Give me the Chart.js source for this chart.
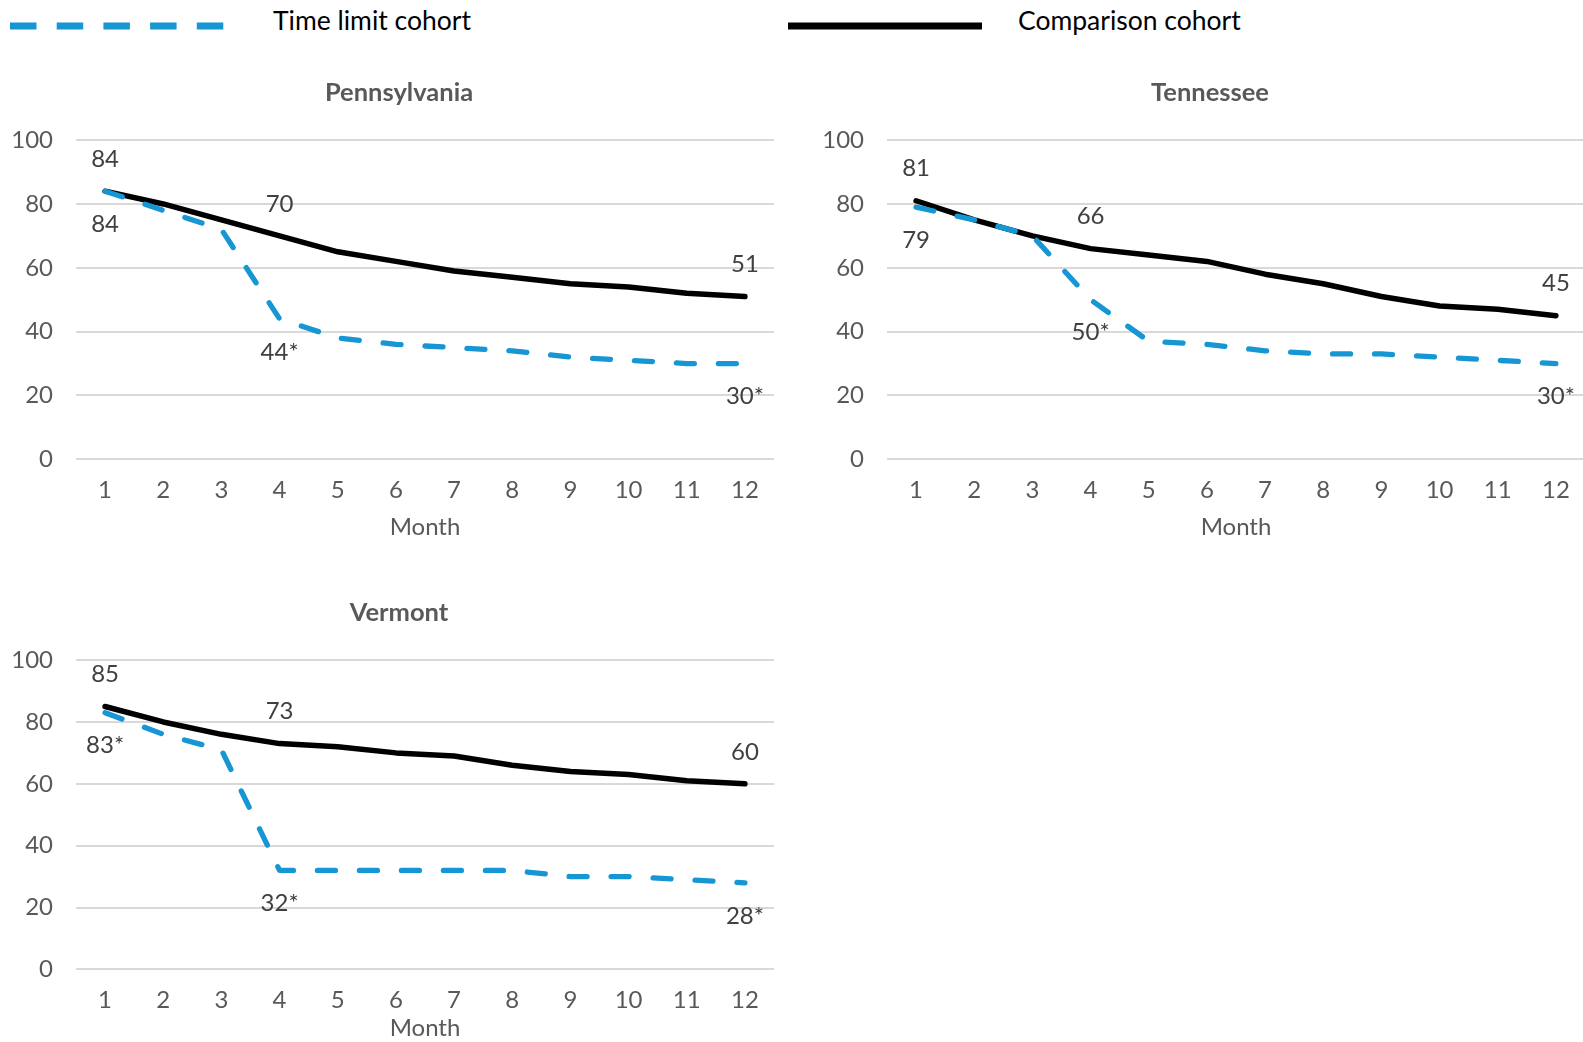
<!DOCTYPE html>
<html>
<head>
<meta charset="utf-8">
<script src="https://cdn.jsdelivr.net/npm/chart.js@4.4.1/dist/chart.umd.min.js"></script>
<style>
  html, body { margin: 0; padding: 0; background: #fff; }
  #page { position: relative; width: 1583px; height: 1042px; overflow: hidden; background: #fff; font-family: Lato, sans-serif; }
  #page canvas { position: absolute; }
  .key-text { position: absolute; font-size: 26.5px; line-height: 26.5px; color: #000; white-space: nowrap; }
</style>
</head>
<body>
<div id="page">
  <svg width="1583" height="50" style="position:absolute;left:0;top:0">
    <line x1="10" y1="26" x2="224" y2="26" stroke="#1696d2" stroke-width="7" stroke-dasharray="26.5 20.2"/>
    <line x1="788" y1="26" x2="982" y2="26" stroke="#000" stroke-width="7"/>
  </svg>
  <div class="key-text" style="left:273px;top:7px">Time limit cohort</div>
  <div class="key-text" style="left:1018px;top:7px">Comparison cohort</div>

  <canvas id="pa" width="798" height="490" style="left:0;top:60px"></canvas>
  <canvas id="tn" width="798" height="490" style="left:811px;top:60px"></canvas>
  <canvas id="vt" width="798" height="463" style="left:0;top:580px"></canvas>
</div>

<script>
// Months since cohort entry
const months = ['1', '2', '3', '4', '5', '6', '7', '8', '9', '10', '11', '12'];

// Share of each cohort still receiving benefits (%)
const paTimeLimit  = [84, 78, 72, 44, 38, 36, 35, 34, 32, 31, 30, 30];
const paComparison = [84, 80, 75, 70, 65, 62, 59, 57, 55, 54, 52, 51];
const tnTimeLimit  = [79, 75, 70, 50, 37, 36, 34, 33, 33, 32, 31, 30];
const tnComparison = [81, 75, 70, 66, 64, 62, 58, 55, 51, 48, 47, 45];
const vtTimeLimit  = [83, 76, 71, 32, 32, 32, 32, 32, 30, 30, 29, 28];
const vtComparison = [85, 80, 76, 73, 72, 70, 69, 66, 64, 63, 61, 60];

// Months (by index) whose values are printed, and significance flags for the time limit cohort
const labelledMonths = [0, 3, 11];
const paSignificant = [false, true, true];
const tnSignificant = [false, true, true];
const vtSignificant = [true, true, true];

// Y axis range
const yMin = 0, yMax = 100, yStep = 20;

const FONT = 'Lato';
const BLUE = '#1696d2';

// Prints the value (plus * when significant) above or below selected points
const valueLabels = {
  id: 'valueLabels',
  afterDatasetsDraw(chart) {
    const ctx = chart.ctx;
    ctx.save();
    ctx.font = '24px ' + FONT;
    ctx.fillStyle = '#404040';
    ctx.textAlign = 'center';
    ctx.textBaseline = 'middle';
    chart.data.datasets.forEach((ds, di) => {
      const meta = chart.getDatasetMeta(di);
      ds.labelAt.forEach((idx, k) => {
        const pt = meta.data[idx];
        const text = String(ds.data[idx]) + (ds.stars && ds.stars[k] ? '*' : '');
        ctx.fillText(text, pt.x, pt.y + ds.labelShift);
      });
    });
    ctx.restore();
  }
};

function makePanel(id, title, timeLimit, comparison, significant, tickGap, monthPad) {
  return new Chart(document.getElementById(id), {
    type: 'line',
    data: {
      labels: months,
      datasets: [
        {
          label: 'Time limit cohort',
          data: timeLimit,
          borderColor: BLUE,
          borderWidth: 5.3,
          borderDash: [18, 24],
          borderCapStyle: 'round',
          borderJoinStyle: 'round',
          pointRadius: 0,
          tension: 0,
          labelAt: labelledMonths,
          stars: significant,
          labelShift: 33
        },
        {
          label: 'Comparison cohort',
          data: comparison,
          borderColor: '#000',
          borderWidth: 5.5,
          borderCapStyle: 'round',
          borderJoinStyle: 'round',
          pointRadius: 0,
          tension: 0,
          labelAt: labelledMonths,
          stars: null,
          labelShift: -32
        }
      ]
    },
    options: {
      responsive: false,
      animation: false,
      devicePixelRatio: 1,
      layout: { padding: 0 },
      plugins: {
        legend: { display: false },
        tooltip: { enabled: false },
        title: {
          display: true,
          text: title,
          color: '#595959',
          font: { family: FONT, size: 25.5, weight: 'bold' },
          padding: { top: 17, bottom: 32.5 }
        }
      },
      scales: {
        x: {
          offset: true,
          grid: { display: false, drawTicks: true, tickLength: tickGap },
          border: { display: false },
          ticks: { color: '#595959', font: { family: FONT, size: 24 }, padding: 0, maxRotation: 0 },
          title: {
            display: true,
            text: 'Month',
            color: '#595959',
            font: { family: FONT, size: 24 },
            padding: monthPad
          }
        },
        y: {
          min: yMin,
          max: yMax,
          afterFit(scale) { scale.width = 76; },
          grid: { color: '#d9d9d9', lineWidth: 2, drawTicks: false },
          border: { display: false },
          ticks: { stepSize: yStep, color: '#595959', font: { family: FONT, size: 24 }, padding: 23 }
        },
        // empty right-hand margin so the panel title stays centred on the whole panel
        margin: {
          type: 'linear',
          position: 'right',
          afterFit(scale) { scale.width = 24; },
          grid: { display: false },
          border: { display: false },
          ticks: { display: false }
        }
      }
    },
    plugins: [valueLabels]
  });
}

makePanel('pa', 'Pennsylvania', paTimeLimit, paComparison, paSignificant, 17, { top: 7.5, bottom: 8.6 });
makePanel('tn', 'Tennessee', tnTimeLimit, tnComparison, tnSignificant, 17, { top: 7.5, bottom: 8.6 });
makePanel('vt', 'Vermont', vtTimeLimit, vtComparison, vtSignificant, 16, { top: 0, bottom: 0 });
</script>
</body>
</html>
